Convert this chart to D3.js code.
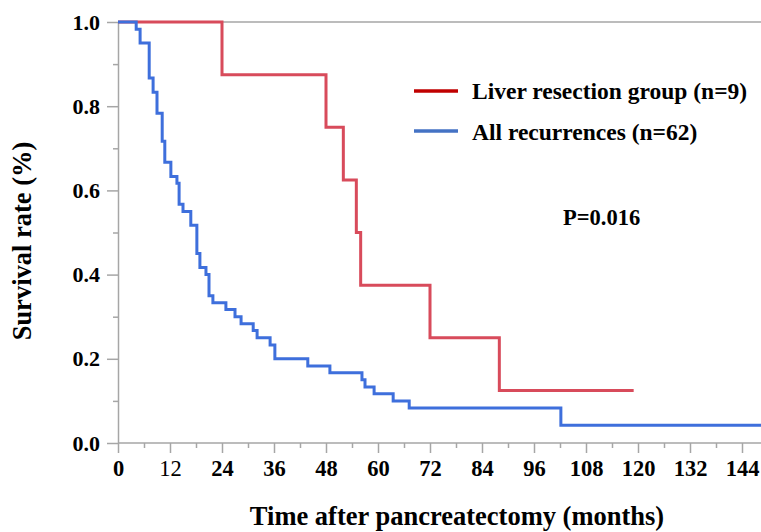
<!DOCTYPE html>
<html>
<head>
<meta charset="utf-8">
<script src="https://cdn.jsdelivr.net/npm/d3@7"></script>
<style>
  body { margin: 0; background: #fff; }
  svg { display: block; }
  .axis text { font-family: "Liberation Serif", "Times New Roman", serif; font-weight: bold; fill: #000; }
</style>
</head>
<body>
<div id="viz"></div>
<script>
const colorRed = '#d84b5b';
const colorBlue = '#3e6fdc';
const axisGray = '#a6a6a6';
const serif = '"Liberation Serif", "Times New Roman", serif';

// Kaplan-Meier steps (months, survival)
const redTimes = [0, 24, 48, 52, 55, 56, 72, 88, 119];
const redSurv = [1, 0.875, 0.75, 0.625, 0.5, 0.375, 0.25, 0.125, 0.125];

const blueTimes = [0, 4.2, 5.1, 7.2, 8.1, 9.0, 10.2, 10.8, 12.2, 13.6, 14.1, 15.0, 16.8, 18.2, 18.9,
  20.3, 21.0, 21.9, 24.9, 27.0, 28.4, 31.2, 32.1, 35.1, 36.2, 43.8, 48.9, 56.3, 57.0, 59.1,
  63.5, 67.2, 102.2, 149];
const blueSurv = [1, 0.983, 0.95, 0.867, 0.833, 0.783, 0.717, 0.667, 0.633, 0.617, 0.567, 0.55, 0.517, 0.45, 0.417,
  0.4, 0.35, 0.333, 0.317, 0.3, 0.283, 0.267, 0.25, 0.233, 0.2, 0.183, 0.167, 0.15, 0.133, 0.117,
  0.1, 0.083, 0.042, 0.042];

const xTicks = [0, 12, 24, 36, 48, 60, 72, 84, 96, 108, 120, 132, 144];
const xMinor = [6, 18, 30, 42, 54, 66, 78, 90, 102, 114, 126, 138];
const yTicks = [0, 0.2, 0.4, 0.6, 0.8, 1.0];
const yMinor = [0.1, 0.3, 0.5, 0.7, 0.9];

const legendLabels = ['Liver resection group (n=9)', 'All recurrences (n=62)'];
const legendColors = ['#c00000', '#4472c4'];
const pValue = 'P=0.016';

function createViz(){
  let dimensions = {
    width: 761,
    height: 532,
    margin: { top: 22, right: 0, bottom: 89, left: 118 },
  }
  dimensions.boundedHeight = dimensions.height - dimensions.margin.top - dimensions.margin.bottom

  const wrapper = d3.select('#viz')
    .append('svg')
    .attr('width', dimensions.width)
    .attr('height', dimensions.height)

  const chart = wrapper.append('g')
    .attr('transform', `translate(${dimensions.margin.left},${dimensions.margin.top})`)

  const xScale = d3.scaleLinear().domain([0, 144]).range([0, 624])
  const yScale = d3.scaleLinear().domain([0, 1]).range([dimensions.boundedHeight, 0])
  const plotRight = dimensions.width - dimensions.margin.left

  // top border
  chart.append('line')
    .attr('x1', 0).attr('x2', plotRight)
    .attr('y1', 0).attr('y2', 0)
    .attr('stroke', axisGray).attr('stroke-width', 1.5)

  // y axis
  const yAxis = chart.append('g').attr('class', 'axis')
    .call(d3.axisLeft(yScale).tickValues(yTicks).tickFormat(d3.format('.1f')).tickSize(11).tickPadding(7).tickSizeOuter(0))
  yAxis.selectAll('text').style('font-size', '22px')
  chart.append('g').attr('class', 'axis')
    .call(d3.axisLeft(yScale).tickValues(yMinor).tickFormat('').tickSize(5))
    .select('.domain').remove()

  // x axis
  const xAxis = chart.append('g').attr('class', 'axis')
    .attr('transform', `translate(0,${dimensions.boundedHeight})`)
    .call(d3.axisBottom(xScale).tickValues(xTicks).tickSize(10).tickPadding(7))
  xAxis.select('.domain').remove()
  xAxis.selectAll('text').style('font-size', '22.5px')
    .style('font-weight', d => d === 12 ? 'normal' : 'bold')
  const xMinorAxis = chart.append('g').attr('class', 'axis')
    .attr('transform', `translate(0,${dimensions.boundedHeight})`)
    .call(d3.axisBottom(xScale).tickValues(xMinor).tickFormat('').tickSize(5))
  xMinorAxis.select('.domain').remove()
  chart.append('line')
    .attr('x1', 0).attr('x2', plotRight)
    .attr('y1', dimensions.boundedHeight).attr('y2', dimensions.boundedHeight)
    .attr('stroke', axisGray).attr('stroke-width', 1.5)

  chart.selectAll('.axis line, .axis .domain')
    .attr('stroke', axisGray).attr('stroke-width', 1.5)

  // curves
  const line = d3.line()
    .x(d => xScale(d[0]))
    .y(d => yScale(d[1]))
    .curve(d3.curveStepAfter)

  chart.append('path')
    .attr('d', line(d3.zip(redTimes, redSurv)))
    .attr('fill', 'none').attr('stroke', colorRed).attr('stroke-width', 3)

  chart.append('path')
    .attr('d', line(d3.zip(blueTimes, blueSurv)))
    .attr('fill', 'none').attr('stroke', colorBlue).attr('stroke-width', 3)

  // legend
  const legend = wrapper.append('g')
  legendLabels.forEach((label, i) => {
    const y = 91 + i * 40
    legend.append('line')
      .attr('x1', 414).attr('x2', 458).attr('y1', y).attr('y2', y)
      .attr('stroke', legendColors[i]).attr('stroke-width', 3.5)
    legend.append('text')
      .attr('x', 472).attr('y', y + 8 + i)
      .style('font-family', serif)
      .style('font-weight', 'bold').style('font-size', '23.5px')
      .text(label)
  })

  wrapper.append('text')
    .attr('x', 563).attr('y', 225)
    .style('font-family', serif)
    .style('font-weight', 'bold').style('font-size', '22.5px')
    .text(pValue)

  // axis titles
  wrapper.append('text')
    .attr('transform', 'translate(31,241) rotate(-90)')
    .attr('text-anchor', 'middle')
    .style('font-family', serif)
    .style('font-weight', 'bold').style('font-size', '26.5px')
    .text('Survival rate (%)')

  wrapper.append('text')
    .attr('x', 457).attr('y', 525)
    .attr('text-anchor', 'middle')
    .style('font-family', serif)
    .style('font-weight', 'bold').style('font-size', '26.5px')
    .text('Time after pancreatectomy (months)')
}

createViz();
</script>
</body>
</html>
